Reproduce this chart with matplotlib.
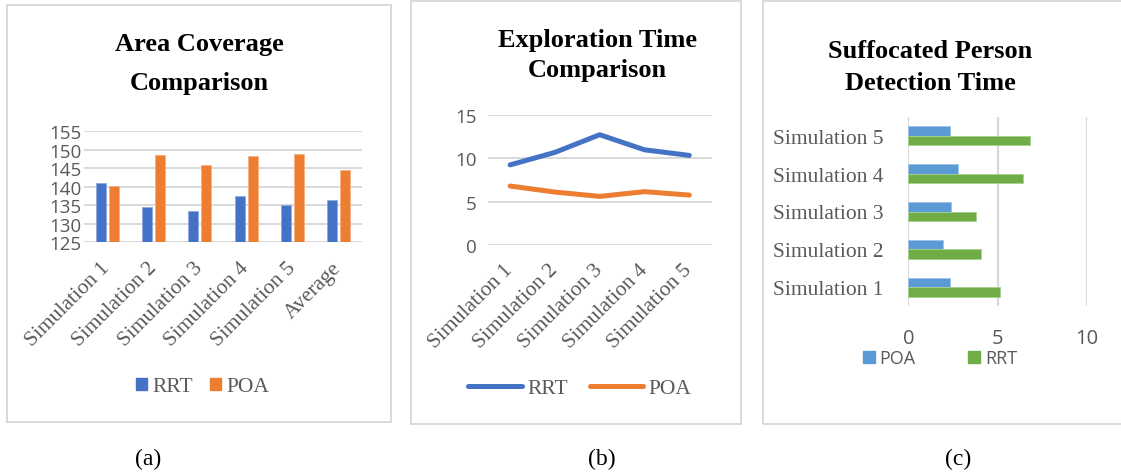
import matplotlib
matplotlib.use("Agg")
import matplotlib.pyplot as plt
from matplotlib.patches import Rectangle, Patch
from matplotlib.lines import Line2D
import numpy as np

# ---------------- data ----------------
area_categories = ["Simulation 1", "Simulation 2", "Simulation 3", "Simulation 4", "Simulation 5", "Average"]
area_rrt = [141.0, 134.5, 133.5, 137.4, 135.1, 136.3]
area_poa = [140.1, 148.6, 146.0, 148.3, 148.9, 144.5]
area_yticks = [125, 130, 135, 140, 145, 150, 155]

time_categories = ["Simulation 1", "Simulation 2", "Simulation 3", "Simulation 4", "Simulation 5"]
time_rrt = [9.25, 10.7, 12.75, 11.0, 10.35]
time_poa = [6.8, 6.1, 5.6, 6.15, 5.75]
time_yticks = [0, 5, 10, 15]

det_categories = ["Simulation 1", "Simulation 2", "Simulation 3", "Simulation 4", "Simulation 5"]
det_poa = [2.33, 1.97, 2.38, 2.79, 2.34]
det_rrt = [5.15, 4.08, 3.78, 6.42, 6.82]
det_xticks = [0, 5, 10]

captions = ["(a)", "(b)", "(c)"]

# ---------------- style ----------------
W, H = 1121, 477
BLUE = "#4472C4"
ORANGE = "#ED7D31"
LBLUE = "#5B9BD5"
GREEN = "#70AD47"
GRID = "#D9D9D9"
GRAY = "#595959"
SERIF = "Liberation Serif"
SANS = "Open Sans"

fig = plt.figure(figsize=(W / 100, H / 100), dpi=100)


def px_axes(x0, y0, x1, y1):
    return fig.add_axes([x0 / W, 1 - y1 / H, (x1 - x0) / W, (y1 - y0) / H])


def fx(x):
    return x / W


def fy(y):
    return 1 - y / H


# panel borders
for (x0, y0, x1, y1) in [(7, 6, 391, 423), (411, 2, 741, 425), (763, 2, 1130, 425)]:
    fig.patches.append(Rectangle((fx(x0), fy(y1)), fx(x1 - x0), (y1 - y0) / H,
                                 transform=fig.transFigure, fill=False,
                                 edgecolor=GRID, lw=1.4))

# ---------------- (a) Area coverage ----------------
ax = px_axes(84, 132.3, 362, 243.3)
x = np.arange(len(area_categories))
bw = 0.22
ax.bar(x - 0.14, np.array(area_rrt) - 125, bw, bottom=125, color=BLUE,
       edgecolor="#8FAADC", lw=0.6, zorder=3)
ax.bar(x + 0.14, np.array(area_poa) - 125, bw, bottom=125, color=ORANGE,
       edgecolor="#F4B183", lw=0.6, zorder=3)
ax.set_xlim(-0.5, len(area_categories) - 0.5)
ax.set_ylim(125, 155)
ax.set_yticks(area_yticks)
ax.set_yticklabels([str(v) for v in area_yticks], fontfamily=SANS, fontsize=13.5, color=GRAY)
ax.yaxis.grid(True, color=GRID, lw=1.4, zorder=0)
ax.set_xticks(x)
ax.set_xticklabels(area_categories, rotation=45, ha="right", va="center",
                   rotation_mode="anchor", fontfamily=SERIF, fontsize=15.5, color=GRAY)
ax.tick_params(axis="both", length=0)
ax.tick_params(axis="x", pad=16)
ax.tick_params(axis="y", pad=2)
for s in ax.spines.values():
    s.set_visible(False)
fig.text(fx(199), fy(44), "Area Coverage", ha="center", va="center",
         fontfamily=SERIF, fontweight="bold", fontsize=19)
fig.text(fx(199), fy(84), "Comparison", ha="center", va="center",
         fontfamily=SERIF, fontweight="bold", fontsize=19)
leg = fig.legend(handles=[Patch(color=BLUE, label="RRT"), Patch(color=ORANGE, label="POA")],
                 loc="center", bbox_to_anchor=(fx(203), fy(388)), ncol=2, frameon=False,
                 prop={"family": SERIF, "size": 15.5}, handlelength=0.5, handleheight=0.5,
                 handletextpad=0.25, columnspacing=0.8, borderaxespad=0)
for t in leg.get_texts():
    t.set_color(GRAY)

# ---------------- (b) Exploration time ----------------
ax = px_axes(487.7, 116.3, 711.7, 245.7)
x = np.arange(len(time_categories))
ax.plot(x, time_rrt, color=BLUE, lw=3.6, solid_capstyle="round", zorder=3)
ax.plot(x, time_poa, color=ORANGE, lw=3.6, solid_capstyle="round", zorder=3)
ax.set_xlim(-0.5, len(time_categories) - 0.5)
ax.set_ylim(0, 15)
ax.set_yticks(time_yticks)
ax.set_yticklabels([str(v) for v in time_yticks], fontfamily=SANS, fontsize=13.5, color=GRAY)
ax.yaxis.grid(True, color=GRID, lw=1.4, zorder=0)
ax.set_xticks(x)
ax.set_xticklabels(time_categories, rotation=45, ha="right", va="center",
                   rotation_mode="anchor", fontfamily=SERIF, fontsize=15.5, color=GRAY)
ax.tick_params(axis="both", length=0)
ax.tick_params(axis="x", pad=16)
ax.tick_params(axis="y", pad=8)
for s in ax.spines.values():
    s.set_visible(False)
fig.text(fx(597), fy(40), "Exploration Time", ha="center", va="center",
         fontfamily=SERIF, fontweight="bold", fontsize=19)
fig.text(fx(597), fy(71), "Comparison", ha="center", va="center",
         fontfamily=SERIF, fontweight="bold", fontsize=19)
leg = fig.legend(handles=[Line2D([], [], color=BLUE, lw=3.6, solid_capstyle="round", label="RRT"),
                          Line2D([], [], color=ORANGE, lw=3.6, solid_capstyle="round", label="POA")],
                 loc="center", bbox_to_anchor=(fx(580), fy(389)), ncol=2, frameon=False,
                 prop={"family": SERIF, "size": 15.5}, handlelength=2.5,
                 handletextpad=0.25, columnspacing=1.0, borderaxespad=0)
for t in leg.get_texts():
    t.set_color(GRAY)

# ---------------- (c) Detection time ----------------
ax = px_axes(908.3, 118, 1086.7, 307)
y = np.arange(len(det_categories))
bh = 0.25
ax.barh(y + bh / 2, det_poa, bh, color=LBLUE, edgecolor="#9DC3E6", lw=0.6, zorder=3)
ax.barh(y - bh / 2, det_rrt, bh, color=GREEN, edgecolor="#A9D18E", lw=0.6, zorder=3)
ax.set_ylim(-0.5, len(det_categories) - 0.5)
ax.set_xlim(0, 10)
ax.set_xticks(det_xticks)
ax.set_xticklabels([str(v) for v in det_xticks], fontfamily=SANS, fontsize=14.5, color=GRAY)
ax.xaxis.grid(True, color=GRID, lw=1.6, zorder=0)
ax.set_yticks(y)
ax.set_yticklabels(det_categories, fontfamily=SERIF, fontsize=15.5, color=GRAY)
ax.tick_params(axis="both", length=0)
ax.tick_params(axis="x", pad=16)
ax.tick_params(axis="y", pad=18)
for s in ax.spines.values():
    s.set_visible(False)
fig.text(fx(930.5), fy(52), "Suffocated Person", ha="center", va="center",
         fontfamily=SERIF, fontweight="bold", fontsize=19)
fig.text(fx(930.5), fy(83), "Detection Time", ha="center", va="center",
         fontfamily=SERIF, fontweight="bold", fontsize=19)
leg = fig.legend(handles=[Patch(color=LBLUE, label="POA"), Patch(color=GREEN, label="RRT")],
                 loc="center", bbox_to_anchor=(fx(940), fy(359)), ncol=2, frameon=False,
                 prop={"family": SANS, "size": 13}, handlelength=0.67, handleheight=0.67,
                 handletextpad=0.28, columnspacing=2.9, borderaxespad=0)
for t in leg.get_texts():
    t.set_color(GRAY)

# ---------------- captions ----------------
for cx, cap in zip([148, 602, 958], captions):
    fig.text(fx(cx), fy(459), cap, ha="center", va="center",
             fontfamily=SERIF, fontsize=17, color="black")

fig.savefig("out.png", dpi=100)
